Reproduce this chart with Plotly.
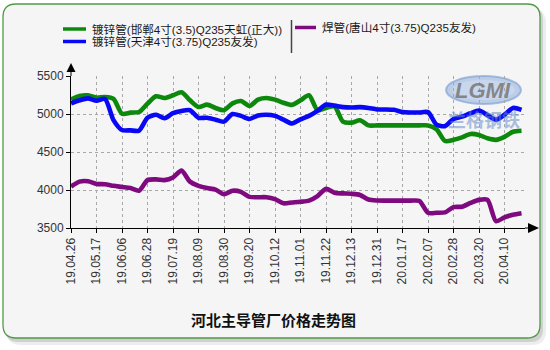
import plotly.graph_objects as go

# Weekly price series (yuan/ton)
dates = ["19.04.26", "19.05.17", "19.06.06", "19.06.28", "19.07.19", "19.08.09",
         "19.08.30", "19.09.20", "19.10.12", "19.11.01", "19.11.22", "19.12.13",
         "19.12.31", "20.01.17", "20.02.07", "20.02.28", "20.03.20", "20.04.10"]

handan_galv = [5190, 5237, 5246, 5215, 5224, 5200, 5004, 5018, 5026, 5136,
               5233, 5210, 5246, 5285, 5180, 5092, 5123, 5079, 5050, 5140,
               5171, 5105, 5189, 5211, 5189, 5149, 5120, 5180, 5246, 5050,
               5080, 5100, 4900, 4886, 4917, 4850, 4850, 4850, 4850, 4850,
               4850, 4850, 4850, 4800, 4645, 4660, 4693, 4737, 4724, 4680,
               4660, 4700, 4767, 4780]

tianjin_galv = [5140, 5180, 5205, 5175, 5197, 4920, 4790, 4785, 4780, 4950,
                4990, 4945, 5010, 5040, 5050, 4950, 4950, 4925, 4900, 5000,
                4975, 4935, 4980, 4990, 4975, 4925, 4875, 4930, 4975, 5040,
                5125, 5110, 5090, 5085, 5090, 5080, 5060, 5060, 5055, 5025,
                5020, 5020, 5025, 4860, 4840, 4935, 4965, 5010, 5045, 4985,
                4925, 4990, 5080, 5055]

tangshan_welded = [4045, 4110, 4115, 4080, 4075, 4055, 4040, 4025, 3990, 4130,
                   4140, 4130, 4165, 4255, 4110, 4055, 4025, 4005, 3945, 3990,
                   3975, 3910, 3905, 3905, 3880, 3825, 3835, 3845, 3860, 3920,
                   4015, 3965, 3955, 3950, 3935, 3875, 3862, 3860, 3860, 3860,
                   3860, 3855, 3700, 3700, 3705, 3775, 3780, 3830, 3870, 3870,
                   3590, 3640, 3675, 3695]

names = ["镀锌管(邯郸4寸(3.5)Q235天虹(正大))",
         "镀锌管(天津4寸(3.75)Q235友发)",
         "焊管(唐山4寸(3.75)Q235友发)"]
colors = ["#0c890c", "#0808f5", "#7f0a80"]
y_ticks = [3500, 4000, 4500, 5000, 5500]
title = "河北主导管厂价格走势图"

W, H = 550, 350
L, R, T, B = 71, 525, 76, 228          # plot area in pixels
PTS_PER_TICK = 3


def px(x):
    return (x - L) / (R - L)


def py(y):
    return (B - y) / (B - T)


def rrect(x0, y0, x1, y1, r):
    p = [f"M{px(x0 + r)},{py(y0)}", f"L{px(x1 - r)},{py(y0)}",
         f"Q{px(x1)},{py(y0)} {px(x1)},{py(y0 + r)}", f"L{px(x1)},{py(y1 - r)}",
         f"Q{px(x1)},{py(y1)} {px(x1 - r)},{py(y1)}", f"L{px(x0 + r)},{py(y1)}",
         f"Q{px(x0)},{py(y1)} {px(x0)},{py(y1 - r)}", f"L{px(x0)},{py(y0 + r)}",
         f"Q{px(x0)},{py(y0)} {px(x0 + r)},{py(y0)}", "Z"]
    return " ".join(p)


fig = go.Figure()
for series, name, col in zip([handan_galv, tianjin_galv, tangshan_welded], names, colors):
    fig.add_trace(go.Scatter(
        x=list(range(len(series))), y=series, name=name, mode="lines",
        line=dict(color=col, width=4.6, shape="spline", smoothing=0.7),
        showlegend=False, hoverinfo="skip"))

shapes = []
# card shadow, card body
shapes.append(dict(type="path", xref="paper", yref="paper", layer="below",
                   path=rrect(7, 9, 546, 345, 14), fillcolor="rgba(0,0,0,0.07)",
                   line=dict(width=0)))
shapes.append(dict(type="path", xref="paper", yref="paper", layer="below",
                   path=rrect(5, 7, 543, 342, 13), fillcolor="rgba(0,0,0,0.12)",
                   line=dict(width=0)))
shapes.append(dict(type="path", xref="paper", yref="paper", layer="below",
                   path=rrect(3, 4, 540, 338, 13), fillcolor="#f5f5f5",
                   line=dict(color="#4f9a45", width=1.3)))

# watermark logo (behind the data)
shapes.append(dict(type="circle", xref="paper", yref="paper", layer="below",
                   x0=px(446), x1=px(521), y0=py(104), y1=py(76),
                   fillcolor="rgba(140,172,218,0.55)",
                   line=dict(color="rgba(120,155,210,0.6)", width=2)))
shapes.append(dict(type="circle", xref="paper", yref="paper", layer="below",
                   x0=px(452), x1=px(515), y0=py(100), y1=py(80),
                   fillcolor="rgba(205,220,240,0.7)", line=dict(width=0)))

# axis extensions with arrow heads
shapes.append(dict(type="line", xref="paper", yref="paper", x0=px(L), x1=px(L),
                   y0=py(T), y1=py(70), line=dict(color="black", width=1)))
shapes.append(dict(type="path", xref="paper", yref="paper",
                   path=f"M{px(L - 4.5)},{py(72)} L{px(L + 4.5)},{py(72)} L{px(L)},{py(63)} Z",
                   fillcolor="black", line=dict(width=0)))
shapes.append(dict(type="line", xref="paper", yref="paper", x0=px(R), x1=px(530),
                   y0=py(B), y1=py(B), line=dict(color="black", width=1)))
shapes.append(dict(type="path", xref="paper", yref="paper",
                   path=f"M{px(528)},{py(B - 5)} L{px(528)},{py(B + 5)} L{px(539)},{py(B)} Z",
                   fillcolor="black", line=dict(width=0)))

# legend keys
leg_rows = [(63, 86, 29, 90), (63, 86, 41.5, 90), (295, 316, 27.5, 320)]
annotations = []
for (x0, x1, yy, tx), name, col in zip(leg_rows, names, colors):
    shapes.append(dict(type="line", xref="paper", yref="paper", x0=px(x0), x1=px(x1),
                       y0=py(yy), y1=py(yy), line=dict(color=col, width=3.5)))
    annotations.append(dict(xref="paper", yref="paper", x=px(tx), y=py(yy), text=name,
                            showarrow=False, xanchor="left", yanchor="middle",
                            font=dict(family="Liberation Sans, Noto Sans CJK SC",
                                      size=11.6, color="#1a1a1a")))
shapes.append(dict(type="line", xref="paper", yref="paper", x0=px(291.5), x1=px(291.5),
                   y0=py(20), y1=py(53), line=dict(color="#444444", width=1.5)))

annotations.append(dict(xref="paper", yref="paper", x=px(483), y=py(90), text="<i>LGMI</i>",
                        showarrow=False, xanchor="center", yanchor="middle",
                        font=dict(family="Liberation Sans", size=22, color="rgba(120,120,120,0.85)",
                                  weight=700)))
annotations.append(dict(xref="paper", yref="paper", x=px(484), y=py(119), text="兰格钢铁",
                        showarrow=False, xanchor="center", yanchor="middle",
                        font=dict(family="Noto Sans CJK SC", size=18, color="rgba(100,140,205,0.55)",
                                  weight=700)))

annotations.append(dict(xref="paper", yref="paper", x=px(273), y=py(319), text=title,
                        showarrow=False, xanchor="center", yanchor="middle",
                        font=dict(family="Noto Sans CJK SC", size=15, color="#111111", weight=700)))

tick_font = dict(family="Liberation Sans", size=12, color="#333333")
fig.update_layout(
    width=W, height=H, autosize=False,
    margin=dict(l=L, r=W - R, t=T, b=H - B, pad=0),
    paper_bgcolor="white", plot_bgcolor="rgba(0,0,0,0)",
    shapes=shapes, annotations=annotations,
    xaxis=dict(range=[0, (R - L) / 8.5], tickmode="array",
               tickvals=[i * PTS_PER_TICK for i in range(len(dates))], ticktext=dates,
               tickangle=-90, tickfont=tick_font, ticks="outside", ticklen=4,
               tickcolor="black", showline=True, linecolor="black", linewidth=1,
               showgrid=True, gridcolor="#a8a8a8", griddash="dot", gridwidth=1,
               zeroline=False, fixedrange=True),
    yaxis=dict(range=[3500, 5500], tickmode="array", tickvals=y_ticks,
               tickfont=tick_font, ticks="outside", ticklen=4, tickcolor="black",
               showline=True, linecolor="black", linewidth=1,
               showgrid=True, gridcolor="#a8a8a8", griddash="dot", gridwidth=1,
               zeroline=False, fixedrange=True),
)

fig.write_html("out.html")
